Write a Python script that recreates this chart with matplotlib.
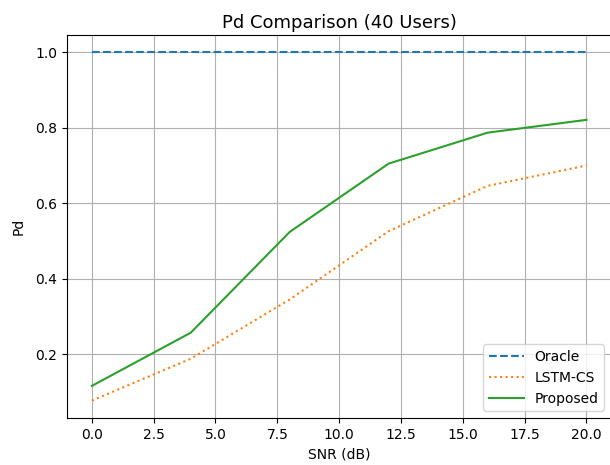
import matplotlib
matplotlib.use("Agg")
import matplotlib.pyplot as plt

snr = [0, 4, 8, 12, 16, 20]
pd_oracle = [1.0, 1.0, 1.0, 1.0, 1.0, 1.0]
pd_lstm = [0.077, 0.188, 0.345, 0.526, 0.646, 0.70]
pd_proposed = [0.116, 0.257, 0.524, 0.705, 0.787, 0.821]

fig = plt.figure(figsize=(6.1, 4.65), dpi=100)
ax = fig.add_axes([0.110, 0.101, 0.892, 0.824])

ax.plot(snr, pd_oracle, linestyle='--', label='Oracle')
ax.plot(snr, pd_lstm, linestyle=':', label='LSTM-CS')
ax.plot(snr, pd_proposed, linestyle='-', label='Proposed')

ax.set_title('Pd Comparison (40 Users)', fontsize=13, pad=5)
ax.set_xlabel('SNR (dB)')
ax.set_ylabel('Pd', labelpad=7)
ax.grid(True)
ax.legend(loc='lower right', handlelength=2.5)

fig.savefig('out.png', dpi=100)
